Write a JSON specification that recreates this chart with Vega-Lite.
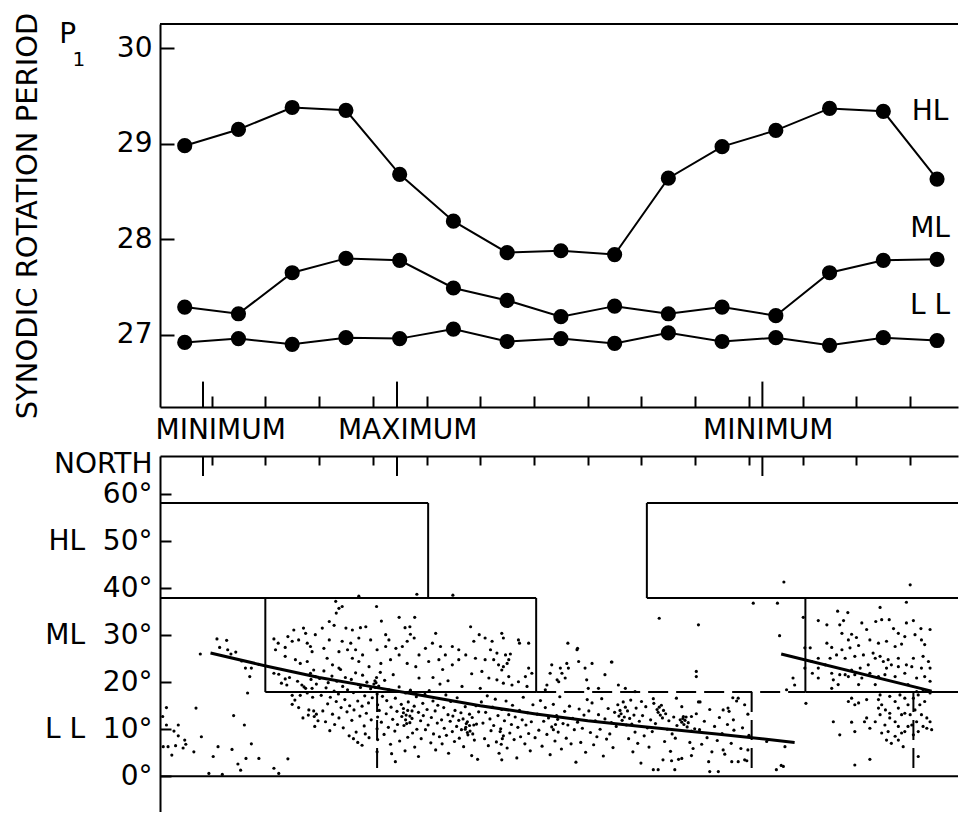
{
"$schema":"https://vega.github.io/schema/vega-lite/v6.json",
"padding":{"left":13,"top":12,"right":0,"bottom":0},
"background":"white",
"spacing":49,
"bounds":"flush",
"config":{"view":{"stroke":null},"font":"DejaVu Sans",
"axis":{"grid":false,"domainColor":"black","domainWidth":2,"tickColor":"black","tickWidth":2,"labelColor":"black","labelFont":"DejaVu Sans","labelFontSize":28,"titleFont":"DejaVu Sans","titleColor":"black","titleFontWeight":"normal"},
"text":{"font":"DejaVu Sans","color":"black"}},
"datasets":{
"rotation":[
{"zone":"HL","t":0.5,"period":28.98},{"zone":"HL","t":1.5,"period":29.15},{"zone":"HL","t":2.5,"period":29.38},{"zone":"HL","t":3.5,"period":29.35},{"zone":"HL","t":4.5,"period":28.68},{"zone":"HL","t":5.5,"period":28.19},{"zone":"HL","t":6.5,"period":27.86},{"zone":"HL","t":7.5,"period":27.88},{"zone":"HL","t":8.5,"period":27.84},{"zone":"HL","t":9.5,"period":28.64},{"zone":"HL","t":10.5,"period":28.97},{"zone":"HL","t":11.5,"period":29.14},{"zone":"HL","t":12.5,"period":29.37},{"zone":"HL","t":13.5,"period":29.34},{"zone":"HL","t":14.5,"period":28.63},
{"zone":"ML","t":0.5,"period":27.29},{"zone":"ML","t":1.5,"period":27.22},{"zone":"ML","t":2.5,"period":27.65},{"zone":"ML","t":3.5,"period":27.8},{"zone":"ML","t":4.5,"period":27.78},{"zone":"ML","t":5.5,"period":27.49},{"zone":"ML","t":6.5,"period":27.36},{"zone":"ML","t":7.5,"period":27.19},{"zone":"ML","t":8.5,"period":27.3},{"zone":"ML","t":9.5,"period":27.22},{"zone":"ML","t":10.5,"period":27.29},{"zone":"ML","t":11.5,"period":27.2},{"zone":"ML","t":12.5,"period":27.65},{"zone":"ML","t":13.5,"period":27.78},{"zone":"ML","t":14.5,"period":27.79},
{"zone":"LL","t":0.5,"period":26.92},{"zone":"LL","t":1.5,"period":26.96},{"zone":"LL","t":2.5,"period":26.9},{"zone":"LL","t":3.5,"period":26.97},{"zone":"LL","t":4.5,"period":26.96},{"zone":"LL","t":5.5,"period":27.06},{"zone":"LL","t":6.5,"period":26.93},{"zone":"LL","t":7.5,"period":26.96},{"zone":"LL","t":8.5,"period":26.91},{"zone":"LL","t":9.5,"period":27.02},{"zone":"LL","t":10.5,"period":26.93},{"zone":"LL","t":11.5,"period":26.97},{"zone":"LL","t":12.5,"period":26.89},{"zone":"LL","t":13.5,"period":26.97},{"zone":"LL","t":14.5,"period":26.94}],
"topLabels":[
{"label":"MINIMUM","t":1.17,"period":25.99},{"label":"MAXIMUM","t":4.65,"period":25.99},{"label":"MINIMUM","t":11.36,"period":25.99},
{"label":"HL","t":14.37,"period":29.33},{"label":"ML","t":14.37,"period":28.11},{"label":"L L","t":14.37,"period":27.3},
{"label":"P","t":-1.68,"period":30.14}],
"sub":[{"label":"1","t":-1.47,"period":29.875}],
"phaseTicks":[{"t":0.84},{"t":4.45},{"t":11.25}],
"zones":[
{"t1":0.04,"t2":5.03,"lat1":58.1,"lat2":58.1},{"t1":5.03,"t2":5.03,"lat1":58.1,"lat2":37.9},
{"t1":0.04,"t2":7.04,"lat1":37.9,"lat2":37.9},
{"t1":2.0,"t2":2.0,"lat1":37.9,"lat2":17.9},{"t1":7.04,"t2":7.04,"lat1":37.9,"lat2":17.9},{"t1":2.0,"t2":7.04,"lat1":17.9,"lat2":17.9},
{"t1":9.1,"t2":14.89,"lat1":58.1,"lat2":58.1},{"t1":9.1,"t2":9.1,"lat1":58.1,"lat2":37.9},{"t1":9.1,"t2":14.89,"lat1":37.9,"lat2":37.9},
{"t1":12.05,"t2":12.05,"lat1":37.9,"lat2":17.9},{"t1":12.05,"t2":14.89,"lat1":17.9,"lat2":17.9},
{"t1":0.04,"t2":14.89,"lat1":0,"lat2":0}],
"zonesDashed":[
{"t1":7.04,"t2":12.05,"lat1":17.9,"lat2":17.9},{"t1":4.08,"t2":4.08,"lat1":17.9,"lat2":0},{"t1":11.05,"t2":11.05,"lat1":17.9,"lat2":0},{"t1":14.06,"t2":14.06,"lat1":17.9,"lat2":0}],
"fits":[
{"cycle":"A","t":0.98,"lat":26.2},{"cycle":"A","t":2.03,"lat":23.4},{"cycle":"A","t":3.0,"lat":21.0},{"cycle":"A","t":4.05,"lat":18.9},{"cycle":"A","t":5.0,"lat":17.0},{"cycle":"A","t":6.0,"lat":15.0},{"cycle":"A","t":7.0,"lat":13.3},{"cycle":"A","t":8.0,"lat":11.8},{"cycle":"A","t":9.0,"lat":10.6},{"cycle":"A","t":10.4,"lat":9.0},{"cycle":"A","t":11.85,"lat":7.2},
{"cycle":"B","t":11.6,"lat":26.0},{"cycle":"B","t":14.4,"lat":18.1}],
"spots":[
{"t":0.79,"lat":26.0},{"t":1.10,"lat":29.2},{"t":1.28,"lat":28.9},{"t":1.15,"lat":27.4},{"t":1.30,"lat":26.9},{"t":1.45,"lat":26.4},{"t":1.36,"lat":26.0},{"t":1.56,"lat":24.5},{"t":1.63,"lat":23.0},{"t":1.74,"lat":23.0},{"t":1.71,"lat":21.2},{"t":1.88,"lat":23.8},{"t":1.67,"lat":17.7},{"t":0.16,"lat":14.6},{"t":0.71,"lat":14.5},{"t":0.09,"lat":12.7},{"t":0.16,"lat":10.9},{"t":0.38,"lat":10.9},{"t":0.30,"lat":9.6},{"t":0.38,"lat":8.6},{"t":0.50,"lat":7.7},{"t":0.52,"lat":6.8},{"t":0.10,"lat":6.3},{"t":0.19,"lat":6.3},{"t":0.33,"lat":6.5},{"t":0.47,"lat":6.0},{"t":0.26,"lat":4.5},{"t":0.67,"lat":5.2},{"t":0.81,"lat":8.4},{"t":1.12,"lat":6.3},{"t":1.03,"lat":4.2},{"t":1.38,"lat":5.7},{"t":1.41,"lat":12.9},{"t":1.61,"lat":10.9},{"t":1.74,"lat":6.9},{"t":1.64,"lat":3.8},{"t":1.49,"lat":2.6},{"t":1.54,"lat":1.3},{"t":1.88,"lat":3.8},{"t":0.95,"lat":0.6},{"t":1.20,"lat":0.4},
{"t":2.16,"lat":1.7},{"t":2.42,"lat":3.7},{"t":2.25,"lat":0.6},{"t":2.16,"lat":29.2},{"t":2.24,"lat":28.3},{"t":2.19,"lat":26.9},{"t":2.37,"lat":27.4},{"t":2.42,"lat":29.7},{"t":2.50,"lat":28.7},{"t":2.53,"lat":31.1},{"t":2.62,"lat":29.0},{"t":2.71,"lat":31.5},{"t":2.75,"lat":30.4},{"t":2.78,"lat":28.3},{"t":2.84,"lat":27.6},{"t":2.87,"lat":26.5},{"t":2.93,"lat":30.1},{"t":2.37,"lat":25.5},{"t":2.56,"lat":24.8},{"t":2.65,"lat":24.0},{"t":2.78,"lat":24.4},{"t":2.90,"lat":22.6},{"t":2.84,"lat":21.9},{"t":2.93,"lat":21.2},{"t":2.16,"lat":21.9},{"t":2.25,"lat":21.7},{"t":2.37,"lat":20.7},{"t":2.40,"lat":19.4},{"t":2.50,"lat":17.2},{"t":2.65,"lat":17.2},{"t":2.78,"lat":17.7},{"t":2.87,"lat":18.7},{"t":2.50,"lat":15.3},{"t":2.81,"lat":14.1},{"t":2.90,"lat":13.9},{"t":2.91,"lat":12.7},{"t":2.80,"lat":13.0},{"t":2.68,"lat":19.4},{"t":2.75,"lat":18.7},{"t":2.30,"lat":19.8},{"t":2.45,"lat":21.0},{"t":2.60,"lat":20.2},{"t":2.72,"lat":19.0},{"t":2.85,"lat":20.6},{"t":2.95,"lat":19.6},{"t":2.55,"lat":16.2},{"t":2.88,"lat":16.8},{"t":2.62,"lat":14.6},{"t":2.95,"lat":13.2},{"t":2.98,"lat":11.8},{"t":2.70,"lat":12.4},{"t":2.92,"lat":10.6},
{"t":3.31,"lat":37.2},{"t":3.37,"lat":35.7},{"t":3.43,"lat":36.1},{"t":3.32,"lat":34.7},{"t":4.07,"lat":36.1},{"t":4.16,"lat":33.0},{"t":4.49,"lat":33.8},{"t":4.69,"lat":31.8},{"t":4.78,"lat":33.8},{"t":4.60,"lat":31.6},{"t":4.70,"lat":30.2},{"t":3.19,"lat":32.9},{"t":3.06,"lat":31.5},{"t":3.28,"lat":32.1},{"t":3.50,"lat":31.5},{"t":3.62,"lat":31.1},{"t":3.77,"lat":31.6},{"t":3.87,"lat":31.8},{"t":4.24,"lat":30.1},{"t":4.30,"lat":29.0},{"t":3.96,"lat":29.0},{"t":3.74,"lat":29.4},{"t":3.59,"lat":28.3},{"t":3.43,"lat":28.7},{"t":3.19,"lat":29.0},{"t":3.09,"lat":27.2},{"t":3.37,"lat":26.5},{"t":3.53,"lat":26.9},{"t":3.68,"lat":26.9},{"t":3.81,"lat":25.8},{"t":3.62,"lat":25.1},{"t":3.74,"lat":24.4},{"t":4.08,"lat":26.9},{"t":4.24,"lat":27.6},{"t":4.43,"lat":27.2},{"t":4.55,"lat":27.6},{"t":4.64,"lat":28.7},{"t":4.77,"lat":29.4},{"t":4.49,"lat":25.8},{"t":4.86,"lat":25.8},{"t":4.98,"lat":27.2},{"t":5.11,"lat":28.3},{"t":5.17,"lat":30.4},{"t":5.26,"lat":27.6},{"t":5.35,"lat":25.8},{"t":5.48,"lat":27.6},{"t":5.60,"lat":26.9},{"t":5.73,"lat":25.8},{"t":5.82,"lat":31.8},{"t":5.88,"lat":28.7},{"t":5.91,"lat":25.1},{"t":5.60,"lat":24.8},{"t":5.48,"lat":23.7},{"t":5.23,"lat":24.8},{"t":5.04,"lat":24.4},{"t":4.80,"lat":23.3},{"t":4.64,"lat":24.0},{"t":4.33,"lat":24.8},{"t":4.15,"lat":24.0},{"t":3.93,"lat":23.3},{"t":3.15,"lat":25.1},{"t":3.25,"lat":23.7},{"t":3.37,"lat":23.0},{"t":4.82,"lat":38.7},{"t":3.74,"lat":38.3},{"t":5.49,"lat":38.5},
{"t":3.01,"lat":20.8},{"t":3.04,"lat":17.2},{"t":3.07,"lat":13.9},{"t":3.09,"lat":22.4},{"t":3.12,"lat":11.6},{"t":3.13,"lat":18.8},{"t":3.16,"lat":15.4},{"t":3.17,"lat":19.9},{"t":3.20,"lat":9.7},{"t":3.21,"lat":16.8},{"t":3.24,"lat":21.3},{"t":3.25,"lat":13.2},{"t":3.28,"lat":18.1},{"t":3.29,"lat":11.0},{"t":3.32,"lat":15.9},{"t":3.33,"lat":20.2},{"t":3.36,"lat":17.5},{"t":3.37,"lat":12.4},{"t":3.40,"lat":22.7},{"t":3.41,"lat":14.6},{"t":3.44,"lat":19.1},{"t":3.45,"lat":10.3},{"t":3.48,"lat":16.3},{"t":3.49,"lat":21.0},{"t":3.52,"lat":13.7},{"t":3.53,"lat":18.4},{"t":3.56,"lat":8.6},{"t":3.57,"lat":15.0},{"t":3.60,"lat":20.6},{"t":3.61,"lat":11.9},{"t":3.64,"lat":17.8},{"t":3.65,"lat":14.1},{"t":3.68,"lat":22.0},{"t":3.69,"lat":9.4},{"t":3.72,"lat":16.0},{"t":3.73,"lat":19.5},{"t":3.76,"lat":12.8},{"t":3.77,"lat":18.9},{"t":3.80,"lat":14.9},{"t":3.81,"lat":21.5},{"t":3.84,"lat":10.7},{"t":3.85,"lat":17.1},{"t":3.88,"lat":13.4},{"t":3.89,"lat":20.0},{"t":3.92,"lat":15.6},{"t":3.93,"lat":8.2},{"t":3.96,"lat":18.6},{"t":3.97,"lat":12.0},{"t":3.99,"lat":16.7},{"t":3.64,"lat":8.0},{"t":3.72,"lat":7.2},{"t":3.80,"lat":6.6},{"t":3.86,"lat":9.0},
{"t":4.02,"lat":19.6},{"t":4.04,"lat":20.3},{"t":4.05,"lat":18.9},{"t":4.06,"lat":19.9},{"t":4.07,"lat":21.0},{"t":4.08,"lat":17.5},{"t":4.09,"lat":15.2},{"t":4.09,"lat":12.6},{"t":4.08,"lat":10.1},{"t":4.09,"lat":7.8},{"t":4.11,"lat":19.2},{"t":4.12,"lat":14.0},{"t":4.14,"lat":22.1},{"t":4.16,"lat":11.5},{"t":4.18,"lat":17.0},{"t":4.21,"lat":8.9},{"t":4.22,"lat":20.4},{"t":4.25,"lat":13.3},{"t":4.26,"lat":16.1},{"t":4.29,"lat":10.4},{"t":4.30,"lat":18.4},{"t":4.33,"lat":6.8},{"t":4.34,"lat":14.7},{"t":4.37,"lat":12.1},{"t":4.38,"lat":21.6},{"t":4.41,"lat":9.6},{"t":4.42,"lat":16.6},{"t":4.45,"lat":13.8},{"t":4.46,"lat":11.0},{"t":4.49,"lat":19.0},{"t":4.50,"lat":7.5},{"t":4.53,"lat":15.3},{"t":4.54,"lat":12.7},{"t":4.57,"lat":14.4},{"t":4.58,"lat":10.8},{"t":4.61,"lat":17.7},{"t":4.62,"lat":13.0},{"t":4.65,"lat":8.3},{"t":4.66,"lat":15.8},{"t":4.69,"lat":11.4},{"t":4.70,"lat":18.3},{"t":4.73,"lat":12.3},{"t":4.74,"lat":9.2},{"t":4.77,"lat":14.9},{"t":4.78,"lat":6.2},{"t":4.81,"lat":16.9},{"t":4.82,"lat":10.0},{"t":4.85,"lat":13.6},{"t":4.86,"lat":20.9},{"t":4.89,"lat":11.8},{"t":4.90,"lat":8.0},{"t":4.93,"lat":15.5},{"t":4.94,"lat":12.9},{"t":4.97,"lat":17.4},{"t":4.98,"lat":9.9},{"t":4.57,"lat":13.5},{"t":4.61,"lat":12.0},{"t":4.65,"lat":14.0},{"t":4.69,"lat":12.8},{"t":4.73,"lat":13.9},{"t":4.63,"lat":11.2},{"t":4.35,"lat":4.8},{"t":4.60,"lat":5.4},{"t":4.85,"lat":4.2},{"t":4.42,"lat":3.1},{"t":4.08,"lat":5.2},
{"t":5.01,"lat":14.2},{"t":5.03,"lat":10.9},{"t":5.05,"lat":18.2},{"t":5.08,"lat":7.1},{"t":5.09,"lat":12.5},{"t":5.12,"lat":16.0},{"t":5.13,"lat":9.0},{"t":5.16,"lat":13.9},{"t":5.17,"lat":5.6},{"t":5.20,"lat":11.3},{"t":5.21,"lat":15.1},{"t":5.24,"lat":8.4},{"t":5.25,"lat":19.6},{"t":5.28,"lat":12.0},{"t":5.29,"lat":6.9},{"t":5.32,"lat":14.6},{"t":5.33,"lat":10.2},{"t":5.36,"lat":17.3},{"t":5.37,"lat":8.7},{"t":5.40,"lat":13.1},{"t":5.41,"lat":4.9},{"t":5.44,"lat":11.7},{"t":5.45,"lat":15.9},{"t":5.48,"lat":9.5},{"t":5.49,"lat":12.8},{"t":5.52,"lat":7.4},{"t":5.53,"lat":14.0},{"t":5.56,"lat":10.6},{"t":5.57,"lat":16.7},{"t":5.60,"lat":11.9},{"t":5.61,"lat":8.1},{"t":5.64,"lat":13.5},{"t":5.65,"lat":9.9},{"t":5.68,"lat":12.2},{"t":5.69,"lat":6.3},{"t":5.72,"lat":14.8},{"t":5.73,"lat":10.4},{"t":5.76,"lat":11.6},{"t":5.77,"lat":8.8},{"t":5.80,"lat":13.2},{"t":5.81,"lat":9.6},{"t":5.84,"lat":4.4},{"t":5.85,"lat":12.5},{"t":5.88,"lat":10.9},{"t":5.89,"lat":7.7},{"t":5.92,"lat":15.0},{"t":5.93,"lat":11.1},{"t":5.95,"lat":3.6},{"t":5.97,"lat":13.7},{"t":5.12,"lat":21.0},{"t":5.40,"lat":20.3},{"t":5.66,"lat":19.1},{"t":5.84,"lat":21.8},{"t":5.30,"lat":22.7},{"t":5.72,"lat":10.0},{"t":5.76,"lat":9.3},{"t":5.80,"lat":10.8},{"t":5.74,"lat":11.2},{"t":5.86,"lat":9.0},
{"t":5.98,"lat":30.1},{"t":6.09,"lat":29.4},{"t":6.22,"lat":28.7},{"t":6.40,"lat":30.4},{"t":6.43,"lat":29.4},{"t":6.71,"lat":29.0},{"t":6.73,"lat":28.3},{"t":6.90,"lat":28.3},{"t":6.19,"lat":26.9},{"t":6.31,"lat":26.2},{"t":6.47,"lat":25.8},{"t":6.56,"lat":26.0},{"t":6.09,"lat":24.8},{"t":6.25,"lat":24.8},{"t":6.34,"lat":23.7},{"t":6.43,"lat":23.3},{"t":6.50,"lat":24.0},{"t":6.53,"lat":24.8},{"t":6.40,"lat":22.6},{"t":6.03,"lat":22.3},{"t":6.90,"lat":23.0},{"t":6.96,"lat":21.9},{"t":6.84,"lat":21.2},{"t":6.16,"lat":20.9},{"t":6.31,"lat":20.5},{"t":6.43,"lat":19.8},{"t":6.59,"lat":19.4},{"t":6.71,"lat":20.1},{"t":6.87,"lat":19.1},{"t":6.53,"lat":21.2},{"t":6.00,"lat":18.7},
{"t":6.02,"lat":15.8},{"t":6.05,"lat":11.3},{"t":6.08,"lat":8.0},{"t":6.10,"lat":13.6},{"t":6.13,"lat":17.1},{"t":6.15,"lat":6.5},{"t":6.18,"lat":12.2},{"t":6.20,"lat":9.7},{"t":6.23,"lat":14.7},{"t":6.25,"lat":10.8},{"t":6.28,"lat":16.4},{"t":6.30,"lat":7.3},{"t":6.33,"lat":12.9},{"t":6.35,"lat":4.9},{"t":6.38,"lat":10.1},{"t":6.40,"lat":14.2},{"t":6.43,"lat":8.6},{"t":6.45,"lat":11.8},{"t":6.48,"lat":16.0},{"t":6.50,"lat":6.0},{"t":6.53,"lat":13.1},{"t":6.55,"lat":9.2},{"t":6.58,"lat":11.0},{"t":6.60,"lat":15.1},{"t":6.63,"lat":7.8},{"t":6.65,"lat":12.6},{"t":6.68,"lat":3.9},{"t":6.70,"lat":10.4},{"t":6.73,"lat":14.0},{"t":6.75,"lat":8.4},{"t":6.78,"lat":12.0},{"t":6.80,"lat":16.8},{"t":6.83,"lat":6.9},{"t":6.85,"lat":10.9},{"t":6.88,"lat":13.5},{"t":6.90,"lat":9.1},{"t":6.93,"lat":5.4},{"t":6.95,"lat":11.6},{"t":6.98,"lat":15.2},{"t":7.02,"lat":8.2},{"t":6.37,"lat":9.5},{"t":6.41,"lat":8.0},{"t":6.39,"lat":6.8},{"t":6.40,"lat":3.5},
{"t":7.21,"lat":18.4},{"t":7.30,"lat":21.9},{"t":7.33,"lat":23.7},{"t":7.43,"lat":20.5},{"t":7.49,"lat":23.0},{"t":7.52,"lat":21.9},{"t":7.61,"lat":24.0},{"t":7.63,"lat":28.3},{"t":7.64,"lat":23.0},{"t":7.58,"lat":20.9},{"t":7.80,"lat":26.9},{"t":7.83,"lat":24.4},{"t":7.95,"lat":23.0},{"t":7.98,"lat":20.5},{"t":7.46,"lat":20.1},{"t":7.24,"lat":19.4},{"t":7.81,"lat":27.2},{"t":8.44,"lat":24.3},
{"t":7.06,"lat":13.2},{"t":7.09,"lat":9.8},{"t":7.12,"lat":16.1},{"t":7.15,"lat":6.4},{"t":7.18,"lat":11.7},{"t":7.21,"lat":14.6},{"t":7.24,"lat":8.9},{"t":7.27,"lat":12.4},{"t":7.30,"lat":4.6},{"t":7.33,"lat":10.5},{"t":7.36,"lat":15.3},{"t":7.39,"lat":7.5},{"t":7.42,"lat":12.9},{"t":7.45,"lat":9.4},{"t":7.48,"lat":16.9},{"t":7.51,"lat":5.8},{"t":7.54,"lat":11.2},{"t":7.57,"lat":13.8},{"t":7.60,"lat":8.1},{"t":7.63,"lat":10.9},{"t":7.66,"lat":14.9},{"t":7.69,"lat":6.9},{"t":7.72,"lat":12.3},{"t":7.75,"lat":9.9},{"t":7.78,"lat":3.0},{"t":7.81,"lat":11.5},{"t":7.84,"lat":14.3},{"t":7.87,"lat":7.2},{"t":7.90,"lat":10.2},{"t":7.93,"lat":13.0},{"t":7.96,"lat":5.1},{"t":7.99,"lat":16.3},{"t":7.36,"lat":9.9},{"t":7.40,"lat":11.0},{"t":7.44,"lat":12.1},
{"t":8.08,"lat":24.0},{"t":8.45,"lat":24.3},{"t":8.32,"lat":21.6},{"t":8.57,"lat":19.4},{"t":8.70,"lat":18.7},{"t":8.01,"lat":18.7},{"t":8.20,"lat":18.7},{"t":8.88,"lat":18.0},
{"t":8.02,"lat":13.9},{"t":8.05,"lat":9.3},{"t":8.08,"lat":15.6},{"t":8.11,"lat":6.7},{"t":8.14,"lat":11.8},{"t":8.17,"lat":8.4},{"t":8.20,"lat":13.1},{"t":8.23,"lat":10.0},{"t":8.26,"lat":16.5},{"t":8.29,"lat":4.3},{"t":8.32,"lat":12.2},{"t":8.35,"lat":7.9},{"t":8.38,"lat":14.4},{"t":8.41,"lat":9.0},{"t":8.44,"lat":11.4},{"t":8.47,"lat":6.1},{"t":8.50,"lat":13.6},{"t":8.53,"lat":10.6},{"t":8.56,"lat":15.2},{"t":8.58,"lat":12.8},{"t":8.60,"lat":14.0},{"t":8.62,"lat":13.3},{"t":8.64,"lat":11.9},{"t":8.66,"lat":15.8},{"t":8.68,"lat":12.6},{"t":8.70,"lat":14.7},{"t":8.72,"lat":10.9},{"t":8.74,"lat":13.9},{"t":8.76,"lat":8.0},{"t":8.78,"lat":12.3},{"t":8.80,"lat":16.2},{"t":8.82,"lat":11.1},{"t":8.84,"lat":5.2},{"t":8.86,"lat":13.0},{"t":8.88,"lat":9.4},{"t":8.90,"lat":14.5},{"t":8.93,"lat":7.0},{"t":8.96,"lat":11.7},{"t":8.99,"lat":2.8},
{"t":9.00,"lat":15.9},{"t":9.22,"lat":16.5},{"t":9.65,"lat":16.6},{"t":10.06,"lat":15.8},{"t":10.09,"lat":15.8},{"t":9.75,"lat":14.8},{"t":9.78,"lat":12.7},{"t":9.93,"lat":12.7},
{"t":9.02,"lat":12.9},{"t":9.05,"lat":8.6},{"t":9.08,"lat":14.8},{"t":9.11,"lat":10.3},{"t":9.14,"lat":6.2},{"t":9.17,"lat":12.0},{"t":9.20,"lat":9.5},{"t":9.23,"lat":15.5},{"t":9.26,"lat":11.2},{"t":9.29,"lat":14.2},{"t":9.31,"lat":13.6},{"t":9.33,"lat":14.7},{"t":9.35,"lat":13.0},{"t":9.37,"lat":15.1},{"t":9.39,"lat":12.4},{"t":9.41,"lat":14.0},{"t":9.43,"lat":7.4},{"t":9.45,"lat":13.3},{"t":9.48,"lat":10.0},{"t":9.51,"lat":11.8},{"t":9.54,"lat":5.3},{"t":9.57,"lat":9.0},{"t":9.60,"lat":12.6},{"t":9.63,"lat":8.1},{"t":9.66,"lat":10.8},{"t":9.69,"lat":3.6},{"t":9.72,"lat":12.0},{"t":9.75,"lat":11.5},{"t":9.77,"lat":12.3},{"t":9.79,"lat":11.0},{"t":9.81,"lat":11.9},{"t":9.83,"lat":12.6},{"t":9.85,"lat":10.5},{"t":9.87,"lat":11.4},{"t":9.90,"lat":7.2},{"t":9.93,"lat":9.6},{"t":9.96,"lat":5.9},{"t":9.99,"lat":10.1},
{"t":9.22,"lat":1.4},{"t":9.31,"lat":1.4},{"t":9.62,"lat":1.4},{"t":10.27,"lat":1.0},{"t":10.43,"lat":1.0},{"t":9.56,"lat":3.3},{"t":9.40,"lat":3.5},{"t":9.75,"lat":3.8},{"t":9.93,"lat":4.4},
{"t":10.02,"lat":13.3},{"t":10.08,"lat":9.9},{"t":10.12,"lat":6.8},{"t":10.17,"lat":11.7},{"t":10.22,"lat":8.2},{"t":10.27,"lat":14.2},{"t":10.31,"lat":5.2},{"t":10.36,"lat":10.6},{"t":10.41,"lat":7.6},{"t":10.45,"lat":12.5},{"t":10.50,"lat":9.1},{"t":10.55,"lat":4.7},{"t":10.60,"lat":11.0},{"t":10.63,"lat":13.8},{"t":10.67,"lat":7.0},{"t":10.72,"lat":9.8},{"t":10.77,"lat":16.0},{"t":10.85,"lat":5.9},{"t":10.88,"lat":10.3},{"t":10.96,"lat":3.3},{"t":11.00,"lat":8.7},{"t":10.70,"lat":16.7},{"t":10.25,"lat":3.1},{"t":10.52,"lat":14.1},{"t":10.61,"lat":14.5},{"t":10.71,"lat":12.0},{"t":10.80,"lat":16.6},{"t":10.92,"lat":15.2},{"t":10.98,"lat":13.2},{"t":10.52,"lat":5.6},{"t":10.68,"lat":3.1},{"t":10.80,"lat":3.1},{"t":10.92,"lat":3.5},{"t":10.98,"lat":5.6},
{"t":9.33,"lat":33.6},{"t":10.06,"lat":32.2},{"t":10.02,"lat":22.3},{"t":10.02,"lat":21.2},{"t":11.08,"lat":36.8},{"t":11.53,"lat":36.8},{"t":11.65,"lat":41.3},{"t":11.57,"lat":29.9},{"t":11.82,"lat":20.9},{"t":11.85,"lat":19.4},{"t":11.70,"lat":18.4},{"t":11.33,"lat":7.4},{"t":11.67,"lat":6.3},{"t":11.51,"lat":1.4},{"t":11.64,"lat":2.1},{"t":11.60,"lat":2.3},
{"t":14.00,"lat":40.7},{"t":13.93,"lat":37.0},{"t":12.01,"lat":33.8},{"t":12.04,"lat":27.3},{"t":12.14,"lat":27.3},{"t":12.04,"lat":23.0},{"t":12.06,"lat":15.5},{"t":12.57,"lat":11.6},{"t":12.69,"lat":8.8},{"t":12.91,"lat":11.5},{"t":12.97,"lat":9.5},{"t":13.15,"lat":11.6},{"t":13.25,"lat":3.6},{"t":12.97,"lat":2.4},{"t":14.15,"lat":4.2},{"t":13.87,"lat":6.3},
{"t":12.29,"lat":33.1},{"t":12.45,"lat":32.2},{"t":12.65,"lat":35.1},{"t":12.84,"lat":34.8},{"t":12.76,"lat":33.1},{"t":12.69,"lat":32.2},{"t":12.73,"lat":30.4},{"t":12.91,"lat":30.2},{"t":12.85,"lat":29.0},{"t":13.00,"lat":29.5},{"t":13.10,"lat":32.6},{"t":13.19,"lat":31.2},{"t":13.44,"lat":35.9},{"t":13.47,"lat":33.3},{"t":13.36,"lat":32.9},{"t":13.61,"lat":33.3},{"t":13.69,"lat":31.4},{"t":13.93,"lat":32.6},{"t":14.06,"lat":33.1},{"t":14.20,"lat":31.4},{"t":14.37,"lat":31.2},{"t":13.78,"lat":30.4},{"t":13.90,"lat":29.7},{"t":14.09,"lat":30.1},{"t":14.21,"lat":29.0},{"t":14.27,"lat":28.0},{"t":13.84,"lat":28.1},{"t":13.72,"lat":27.6},{"t":13.56,"lat":28.7},{"t":13.41,"lat":28.3},{"t":13.25,"lat":29.0},{"t":13.04,"lat":27.8},{"t":12.88,"lat":27.3},{"t":12.73,"lat":26.9},{"t":12.54,"lat":27.4},{"t":12.45,"lat":28.3},{"t":12.29,"lat":25.1},{"t":12.51,"lat":25.1},{"t":12.63,"lat":25.8},{"t":12.79,"lat":25.1},{"t":12.97,"lat":25.5},{"t":13.13,"lat":25.8},{"t":13.31,"lat":26.2},{"t":13.44,"lat":25.5},{"t":13.59,"lat":24.8},{"t":13.78,"lat":25.1},{"t":13.93,"lat":23.7},{"t":14.06,"lat":25.1},{"t":14.24,"lat":25.5},{"t":14.34,"lat":24.4},{"t":14.37,"lat":23.0},{"t":14.21,"lat":23.0},{"t":14.03,"lat":23.3},{"t":13.78,"lat":23.3},{"t":13.65,"lat":23.7},{"t":13.50,"lat":24.4},{"t":13.35,"lat":25.1},{"t":13.22,"lat":23.7},{"t":13.07,"lat":23.0},{"t":12.91,"lat":22.6},{"t":12.79,"lat":21.6},{"t":12.69,"lat":21.6},{"t":12.54,"lat":21.9},{"t":12.42,"lat":23.7},{"t":12.29,"lat":23.0},{"t":12.17,"lat":24.4},{"t":12.18,"lat":21.9},{"t":12.57,"lat":20.5},{"t":12.85,"lat":21.2},{"t":12.97,"lat":21.6},{"t":13.10,"lat":20.9},{"t":13.25,"lat":21.9},{"t":13.41,"lat":21.2},{"t":13.53,"lat":21.6},{"t":13.56,"lat":23.0},{"t":13.72,"lat":21.2},{"t":13.90,"lat":21.9},{"t":14.12,"lat":20.9},{"t":14.27,"lat":21.2},{"t":14.37,"lat":20.2},{"t":12.29,"lat":20.9},{"t":13.04,"lat":19.5},{"t":13.35,"lat":19.5},{"t":13.96,"lat":19.5},{"t":12.66,"lat":19.5},{"t":12.54,"lat":18.7},
{"t":12.91,"lat":16.6},{"t":13.04,"lat":15.6},{"t":13.19,"lat":16.3},{"t":13.44,"lat":17.3},{"t":13.47,"lat":15.2},{"t":13.54,"lat":14.1},{"t":13.62,"lat":17.0},{"t":13.72,"lat":15.9},{"t":13.78,"lat":14.5},{"t":13.81,"lat":17.3},{"t":13.90,"lat":13.4},{"t":13.96,"lat":15.2},{"t":14.00,"lat":13.1},{"t":14.06,"lat":16.6},{"t":14.09,"lat":14.1},{"t":14.15,"lat":17.3},{"t":14.18,"lat":15.2},{"t":14.21,"lat":13.1},{"t":14.27,"lat":15.9},{"t":14.31,"lat":12.4},{"t":14.37,"lat":11.6},{"t":14.40,"lat":9.9},{"t":14.24,"lat":10.6},{"t":14.12,"lat":11.6},{"t":14.03,"lat":10.9},{"t":13.90,"lat":9.5},{"t":13.78,"lat":10.6},{"t":13.72,"lat":11.6},{"t":13.62,"lat":12.4},{"t":13.53,"lat":10.9},{"t":13.44,"lat":13.1},{"t":13.41,"lat":14.5},{"t":13.59,"lat":9.5},{"t":13.72,"lat":8.5},{"t":13.78,"lat":7.7},{"t":13.84,"lat":9.2},{"t":14.06,"lat":8.8},{"t":14.15,"lat":9.5},{"t":14.31,"lat":10.2},{"t":13.35,"lat":11.6},{"t":13.25,"lat":10.2},{"t":13.19,"lat":12.4},{"t":12.97,"lat":15.2},{"t":12.85,"lat":15.9},{"t":13.62,"lat":13.4},{"t":13.84,"lat":13.1},{"t":13.47,"lat":9.2},{"t":13.56,"lat":7.7},{"t":13.65,"lat":7.0},{"t":13.96,"lat":10.6},{"t":13.41,"lat":16.3},{"t":13.90,"lat":16.6},{"t":14.12,"lat":18.0},{"t":14.24,"lat":18.4},{"t":14.37,"lat":17.7}
]},
"vconcat":[
{"width":798,"height":383,
"layer":[
{"data":{"name":"rotation"},"mark":{"type":"line","color":"black","strokeWidth":2},
"encoding":{"x":{"field":"t","type":"quantitative","scale":{"domain":[0.04,14.89],"nice":false,"zero":false},"axis":{"orient":"bottom","values":[1,2,3,4,5,6,7,8,9,10,11,12,13,14],"tickSize":-11,"labels":false,"title":null}},
"y":{"field":"period","type":"quantitative","scale":{"domain":[26.244,30.254],"nice":false,"zero":false},"axis":{"values":[27,28,29,30],"format":"d","tickSize":-14,"labelPadding":22,"title":"SYNODIC ROTATION PERIOD","titleFontSize":29,"titleX":-133,"titleY":191.5,"titleAngle":270,"titleAlign":"center","titleBaseline":"middle"}},
"detail":{"field":"zone"}}},
{"data":{"name":"rotation"},"mark":{"type":"point","filled":true,"color":"black","size":230,"opacity":1},
"encoding":{"x":{"field":"t","type":"quantitative"},"y":{"field":"period","type":"quantitative"}}},
{"data":{"values":[{}]},"mark":{"type":"rule","color":"black","strokeWidth":2},"encoding":{"y":{"datum":30.254}}},
{"data":{"name":"phaseTicks"},"mark":{"type":"rule","color":"black","strokeWidth":2},"encoding":{"x":{"field":"t","type":"quantitative"},"y":{"datum":26.244},"y2":{"datum":26.51}}},
{"data":{"name":"topLabels"},"mark":{"type":"text","fontSize":28,"baseline":"middle","align":"center","font":"DejaVu Sans"},"encoding":{"x":{"field":"t","type":"quantitative"},"y":{"field":"period","type":"quantitative"},"text":{"field":"label"}}},
{"data":{"name":"sub"},"mark":{"type":"text","fontSize":20,"baseline":"middle","align":"center","font":"DejaVu Sans"},"encoding":{"x":{"field":"t","type":"quantitative"},"y":{"field":"period","type":"quantitative"},"text":{"field":"label"}}}
]},
{"width":798,"height":356,
"layer":[
{"data":{"name":"spots"},"mark":{"type":"point","filled":true,"color":"black","size":10,"opacity":1},
"encoding":{"x":{"field":"t","type":"quantitative","scale":{"domain":[0.04,14.89],"nice":false,"zero":false},"axis":{"orient":"top","values":[1,2,3,4,5,6,7,8,9,10,11,12,13,14],"tickSize":-9,"labels":false,"title":null}},
"y":{"field":"lat","type":"quantitative","scale":{"domain":[-7.6,68.1],"nice":false,"zero":false},"axis":{"values":[0,10,20,30,40,50,60],"tickSize":-11,"labelPadding":19,"labelExpr":"datum.value == 50 ? 'HL\u00a0\u00a050°' : datum.value == 30 ? 'ML\u00a0\u00a030°' : datum.value == 10 ? 'L\u00a0L\u00a0\u00a010°' : datum.value + '°'","title":"NORTH","titleFontSize":28,"titleAngle":0,"titleAlign":"right","titleBaseline":"middle","titleX":-8,"titleY":8}}}},
{"data":{"name":"zones"},"mark":{"type":"rule","color":"black","strokeWidth":2},"encoding":{"x":{"field":"t1","type":"quantitative"},"x2":{"field":"t2"},"y":{"field":"lat1","type":"quantitative"},"y2":{"field":"lat2"}}},
{"data":{"name":"zonesDashed"},"mark":{"type":"rule","color":"black","strokeWidth":2,"strokeDash":[20,8]},"encoding":{"x":{"field":"t1","type":"quantitative"},"x2":{"field":"t2"},"y":{"field":"lat1","type":"quantitative"},"y2":{"field":"lat2"}}},
{"data":{"name":"phaseTicks"},"mark":{"type":"rule","color":"black","strokeWidth":2},"encoding":{"x":{"field":"t","type":"quantitative"},"y":{"datum":68.1},"y2":{"datum":63.85}}},
{"data":{"name":"fits"},"mark":{"type":"line","color":"black","strokeWidth":3},"encoding":{"x":{"field":"t","type":"quantitative"},"y":{"field":"lat","type":"quantitative"},"detail":{"field":"cycle"}}}
]}
]
}
